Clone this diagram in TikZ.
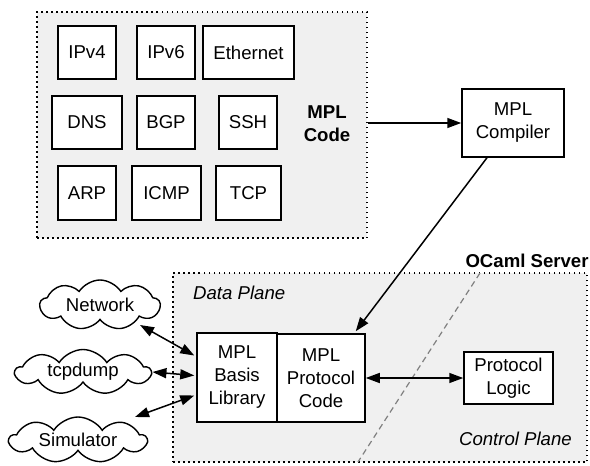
\documentclass[tikz,border=0pt]{standalone}
\usepackage{fontspec}
\setmainfont{Liberation Sans}
\usetikzlibrary{shapes.symbols,arrows.meta,calc}
\definecolor{panel}{HTML}{F0F0F0}
\begin{document}
\begin{tikzpicture}[x=1pt,y=-1pt,
  font=\fontsize{18.6}{23}\selectfont,
  region/.style={draw=black, fill=panel, line width=1.5pt, dash pattern=on 1.5pt off 3.5pt, rectangle, inner sep=0pt},
  box/.style={draw=black, fill=white, line width=1.5pt, rectangle, inner sep=0pt, align=center},
  cloudbox/.style={draw=black, fill=white, line width=1.4pt, cloud, cloud puffs=9, cloud puff arc=115, cloud ignores aspect, inner sep=0pt},
  arr/.style={line width=1.5pt, -{Triangle[length=14pt,width=10pt]}},
  darr/.style={line width=1.5pt, {Triangle[length=14pt,width=10pt]}-{Triangle[length=14pt,width=10pt]}},
]
\useasboundingbox (0,0) rectangle (590,466);
% MPL code region
\node[region, minimum width=330pt, minimum height=226pt] (code) at (202,125) {};
\node[box, minimum width=58pt, minimum height=53pt] (ipv4) at (87,52.5) {IPv4};
\node[box, minimum width=58pt, minimum height=53pt] (ipv6) at (166,52.5) {IPv6};
\node[box, minimum width=91pt, minimum height=53pt] (eth) at (248.5,52.5) {Ethernet};
\node[box, minimum width=70pt, minimum height=53pt] (dns) at (87,122.5) {DNS};
\node[box, minimum width=58pt, minimum height=53pt] (bgp) at (166,122.5) {BGP};
\node[box, minimum width=58pt, minimum height=53pt] (ssh) at (248,122.5) {SSH};
\node[box, minimum width=58pt, minimum height=54pt] (arp) at (87,193) {ARP};
\node[box, minimum width=69pt, minimum height=54pt] (icmp) at (166.5,193) {ICMP};
\node[box, minimum width=65pt, minimum height=54pt] (tcp) at (248.5,193) {TCP};
\node[align=center, font=\fontsize{18.6}{23}\selectfont\bfseries] (codelbl) at (327,123.5) {MPL\\Code};
% compiler
\node[box, minimum width=102pt, minimum height=68pt] (comp) at (513,123) {MPL\\Compiler};
\draw[arr] (code.east |- comp.west) -- (comp.west);
% OCaml server region
\node[region, minimum width=414pt, minimum height=189pt] (srv) at (380,367.5) {};
\node[anchor=south east, inner sep=0pt, font=\fontsize{18.6}{23}\selectfont\bfseries] (srvlbl) at ($(srv.north east)+(1,-4)$) {OCaml Server};
\coordinate (splitA) at (480,273);
\coordinate (splitB) at (358,462);
\draw[gray, line width=1.2pt, dash pattern=on 6pt off 4pt] (splitA) -- (splitB);
\node[font=\fontsize{18.6}{23}\selectfont\itshape, anchor=west, inner sep=0pt] (dp) at (193,293) {Data Plane};
\node[font=\fontsize{18.6}{23}\selectfont\itshape, anchor=east, inner sep=0pt] (cp) at (572,439) {Control Plane};
\node[box, minimum width=80pt, minimum height=89pt] (basis) at (237,377.5) {MPL\\Basis\\Library};
\node[box, minimum width=88pt, minimum height=88pt] (proto) at (321,378) {MPL\\Protocol\\Code};
\node[box, minimum width=89pt, minimum height=52pt] (logic) at (508.5,378) {Protocol\\Logic};
\draw[arr] ($(comp.south)+(-26,0)$) -- ($(proto.north east)+(-10,-2)$);
\draw[darr] (proto.east |- logic.west) -- (logic.west);
% clouds
\node[cloudbox, minimum width=120pt, minimum height=50pt] (net) at (100,305) {Network};
\node[cloudbox, minimum width=135pt, minimum height=45pt] (tcpd) at (83,372) {tcpdump};
\node[cloudbox, minimum width=137pt, minimum height=46pt] (sim) at (78,440) {Simulator};
\draw[darr] ($(net.center)+(40,20)$) -- ($(basis.west)+(-2,-22)$);
\draw[darr] (tcpd.east) -- ($(basis.west)+(-2,-2)$);
\draw[darr] ($(sim.center)+(57,-23)$) -- ($(basis.west)+(-2,18)$);
\end{tikzpicture}
\end{document}
